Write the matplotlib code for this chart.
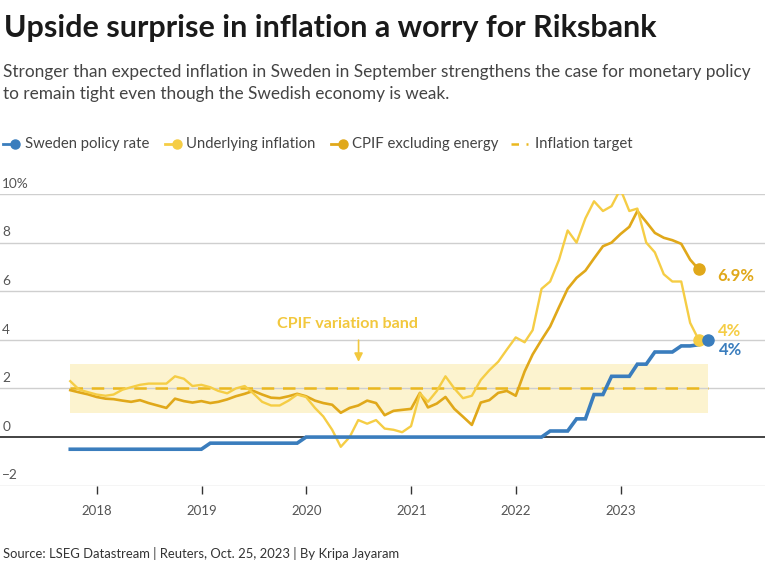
import matplotlib
matplotlib.use("Agg")
import matplotlib.pyplot as plt
import matplotlib.dates as mdates
from matplotlib.lines import Line2D
import pandas as pd
from datetime import datetime

plt.rcParams['font.family'] = ['Lato', 'DejaVu Sans']

# Data (monthly, Sep 2017 onwards)
cpif = [2.3, 1.95, 1.85, 1.75,
        1.7, 1.75, 1.95, 2.05, 2.15, 2.2, 2.2, 2.2, 2.5, 2.4, 2.1, 2.15,
        2.05, 1.9, 1.8, 2.0, 2.1, 1.8, 1.45, 1.3, 1.3, 1.5, 1.75, 1.65,
        1.2, 0.85, 0.3, -0.4, 0.0, 0.7, 0.55, 0.7, 0.35, 0.3, 0.2, 0.45,
        1.8, 1.45, 1.9, 2.5, 2.0, 1.6, 1.7, 2.35, 2.75, 3.1, 3.6, 4.1,
        3.9, 4.4, 6.1, 6.4, 7.3, 8.5, 8.0, 9.0, 9.7, 9.3, 9.5, 10.2,
        9.3, 9.4, 8.0, 7.6, 6.7, 6.4, 6.4, 4.7, 4.0]
cpif_ex_energy = [1.93, 1.84, 1.76, 1.65,
                  1.58, 1.56, 1.5, 1.45, 1.52, 1.4, 1.3, 1.2, 1.58, 1.48, 1.42, 1.48,
                  1.4, 1.45, 1.55, 1.68, 1.78, 1.9, 1.75, 1.62, 1.6, 1.68, 1.78, 1.68,
                  1.5, 1.4, 1.33, 1.0, 1.2, 1.3, 1.5, 1.4, 0.9, 1.08, 1.12, 1.16,
                  1.82, 1.22, 1.38, 1.65, 1.16, 0.84, 0.5, 1.42, 1.52, 1.82, 1.9, 1.7,
                  2.7, 3.4, 4.0, 4.55, 5.35, 6.1, 6.55, 6.85, 7.35, 7.85, 8.0, 8.35,
                  8.65, 9.3, 8.85, 8.4, 8.2, 8.1, 7.95, 7.3, 6.9]
policy_rate = [-0.5] * 16 + [-0.25] * 11 + [0.0] * 28 + \
              [0.25, 0.25, 0.25, 0.75, 0.75, 1.75, 1.75, 2.5, 2.5,
               2.5, 3.0, 3.0, 3.5, 3.5, 3.5, 3.75, 3.75, 3.8, 4.0]
target = 2
band_low, band_high = 1, 3
year_ticks = [2018, 2019, 2020, 2021, 2022, 2023]
y_ticks = [-2, 0, 2, 4, 6, 8, 10]
y_labels = ['\u22122', '0', '2', '4', '6', '8', '10%']

dates_infl = pd.date_range('2017-09-30', periods=len(cpif), freq='ME')
dates_rate = pd.date_range('2017-09-30', periods=len(policy_rate), freq='ME')

BLUE = '#3a7dbd'
LIGHT = '#f5cd45'
GOLD = '#e0a81a'
GRID = '#cfcfcf'
TXT = '#444444'

W, H = 768, 566
fig = plt.figure(figsize=(W / 100, H / 100), dpi=100)

def fx(x):
    return x / W

def fy(y):
    return 1 - y / H

ax = fig.add_axes([0, fy(485.7), fx(765), (485.7 - 194) / H])
ax.set_xlim(datetime(2017, 1, 28), datetime(2024, 5, 18))
ax.set_ylim(-2, 10)
for s in ax.spines.values():
    s.set_visible(False)

# grid
for v in y_ticks:
    if v == 0:
        ax.axhline(0, color='#222222', lw=1.2, zorder=2)
    else:
        ax.axhline(v, color=GRID, lw=1.0, zorder=1)
    ax.text(0.003, v + 0.42, y_labels[y_ticks.index(v)], transform=ax.get_yaxis_transform(),
            ha='left', va='center', fontsize=9.8, color='#555555')
ax.set_yticks([])

# variation band and target
ax.fill_between([dates_infl[0], dates_rate[-1]], band_low, band_high,
                color='#fbf0c0', alpha=0.75, lw=0, zorder=0)
ax.plot([dates_infl[0], dates_rate[-1]], [target, target], color='#ebb81e',
        lw=1.8, dashes=(5, 3.5), zorder=3)

ax.plot(dates_infl, cpif_ex_energy, color=GOLD, lw=1.9, zorder=4)
ax.plot(dates_infl, cpif, color=LIGHT, lw=1.7, zorder=5)
ax.plot(dates_rate, policy_rate, color=BLUE, lw=2.6, zorder=6, solid_joinstyle='miter')

ax.plot(dates_infl[-1], cpif_ex_energy[-1], 'o', color=GOLD, ms=8, zorder=7)
ax.plot(dates_infl[-1], cpif[-1], 'o', color=LIGHT, ms=8, zorder=7)
ax.plot(dates_rate[-1], policy_rate[-1], 'o', color=BLUE, ms=8, zorder=8)

ax.annotate('6.9%', (dates_infl[-1], cpif_ex_energy[-1]), xytext=(13.5, -5),
            textcoords='offset points', ha='left', va='center', fontsize=12,
            fontweight='bold', color=GOLD)
ax.annotate('4%', (dates_infl[-1], cpif[-1]), xytext=(13.5, 6.5),
            textcoords='offset points', ha='left', va='center', fontsize=12,
            fontweight='bold', color=LIGHT)
ax.annotate('4%', (dates_rate[-1], policy_rate[-1]), xytext=(8, -7.5),
            textcoords='offset points', ha='left', va='center', fontsize=12,
            fontweight='bold', color=BLUE)

# band label
ax.text(datetime(2020, 5, 22), 4.64, 'CPIF variation band', ha='center', va='center',
        fontsize=11.6, fontweight='bold', color='#f2c83e')
ax.annotate('', xy=(datetime(2020, 7, 1), 2.98), xytext=(datetime(2020, 7, 1), 4.1),
            arrowprops=dict(arrowstyle='-|>,head_length=0.5,head_width=0.25',
                            color='#f2c83e', lw=1.2))

# x axis
ax.set_xticks([datetime(y, 1, 1) for y in year_ticks])
ax.xaxis.set_major_formatter(mdates.DateFormatter('%Y'))
ax.tick_params(axis='x', length=6, width=1, color='#333333', pad=8,
               labelsize=9.5, labelcolor='#555555')

# titles
fig.text(fx(4), fy(37.5), 'Upside surprise in inflation a worry for Riksbank',
         fontsize=22, fontweight='bold', color='#1a1a1a', va='baseline')
fig.text(fx(3), fy(77.5), 'Stronger than expected inflation in Sweden in September strengthens the case for monetary policy',
         fontsize=12.45, color=TXT, va='baseline')
fig.text(fx(3), fy(99), 'to remain tight even though the Swedish economy is weak.',
         fontsize=12.45, color=TXT, va='baseline')

# legend
legend_items = [
    (3, 25, BLUE, 'Sweden policy rate', False),
    (165, 186, LIGHT, 'Underlying inflation', False),
    (331, 352, GOLD, 'CPIF excluding energy', False),
    (511, 535, '#ebb81e', 'Inflation target', True),
]
ly = 144
for x0, xt, col, lab, dashed in legend_items:
    if dashed:
        fig.add_artist(Line2D([fx(x0), fx(x0 + 17)], [fy(ly), fy(ly)], color=col,
                              lw=1.8, dashes=(3, 3)))
    else:
        fig.add_artist(Line2D([fx(x0), fx(x0 + 14)], [fy(ly), fy(ly)], color=col, lw=2))
        fig.add_artist(Line2D([fx(x0 + 12)], [fy(ly)], color=col, marker='o', ms=6.5))
    fig.text(fx(xt), fy(ly), lab, fontsize=10.7, color=TXT, va='center', ha='left')

fig.text(fx(3), fy(553), 'Source: LSEG Datastream | Reuters, Oct. 25, 2023 | By Kripa Jayaram',
         fontsize=9.35, color='#333333', va='center')

fig.savefig('out.png', dpi=100)
